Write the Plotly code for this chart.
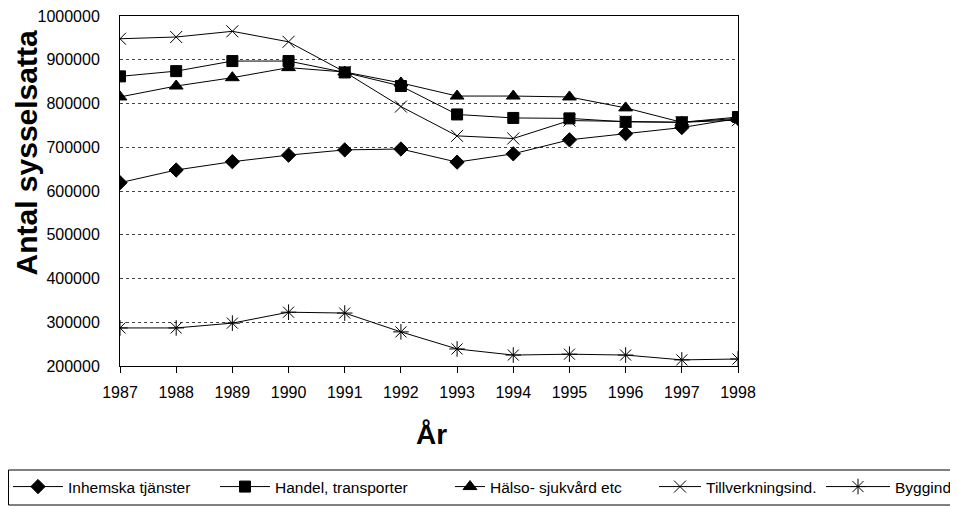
import plotly.graph_objects as go

years = [1987, 1988, 1989, 1990, 1991, 1992, 1993, 1994, 1995, 1996, 1997, 1998]
inhemska = [619000, 648000, 667000, 682000, 694000, 696000, 666000, 685000, 717000, 731000, 745000, 766000]
handel = [862000, 874000, 897000, 897000, 871000, 840000, 775000, 767000, 766000, 758000, 757000, 769000]
halso = [815000, 840000, 859000, 882000, 872000, 847000, 817000, 817000, 815000, 790000, 757000, 766000]
tillverk = [948000, 952000, 965000, 941000, 872000, 793000, 726000, 720000, 761000, 759000, 757000, 762000]
byggind = [287000, 287000, 298000, 323000, 321000, 278000, 239000, 225000, 227000, 225000, 214000, 216000]

series_names = ["Inhemska tjänster", "Handel, transporter", "Hälso- sjukvård etc",
                "Tillverkningsind.", "Byggind"]
series_values = [inhemska, handel, halso, tillverk, byggind]
symbols = ["diamond", "square", "triangle-up", "x-thin-open", "asterisk-open"]
sizes = [11, 11, 12, 12, 13]

y_ticks = [200000, 300000, 400000, 500000, 600000, 700000, 800000, 900000, 1000000]

FONT = "Liberation Sans, Arial, sans-serif"

# page body has an 8px margin, so the figure is placed 8px in from the corner
W, H = 950, 499
L, R, T, B = 112, 730, 8, 358

fig = go.Figure()
legend_keys = ["legend", "legend2", "legend3", "legend4", "legend5"]
for i, (name, vals) in enumerate(zip(series_names, series_values)):
    fig.add_trace(go.Scatter(
        x=years, y=vals, name=name, mode="lines+markers",
        line=dict(color="black", width=1),
        marker=dict(symbol=symbols[i], size=sizes[i], color="black",
                    line=dict(color="black", width=1)),
        legend=legend_keys[i],
    ))

# legend positions (figure pixels) and symbol widths
leg_px = [0, 207, 442, 646, 813]
leg_iw = [50, 50, 30, 42, 64]
layout_legends = {}
for key, px, iw in zip(legend_keys, leg_px, leg_iw):
    layout_legends[key] = dict(
        x=px / W, xref="container", xanchor="left",
        y=1 - 479 / H, yref="container", yanchor="middle",
        bgcolor="rgba(0,0,0,0)", borderwidth=0,
        font=dict(family=FONT, size=15.5, color="black"),
        itemwidth=iw, orientation="h",
    )

pw = R - L
ph = B - T

def px_to_paper_x(px):
    return (px - L) / pw

def py_to_paper_y(py):
    return (B - py) / ph

fig.update_layout(
    width=W, height=H,
    margin=dict(l=L, r=W - R, t=T, b=H - B, autoexpand=False),
    paper_bgcolor="white", plot_bgcolor="white",
    showlegend=True,
    font=dict(family=FONT, color="black"),
    xaxis=dict(
        range=[1987, 1998], tickmode="array", tickvals=years,
        ticktext=[str(y) for y in years],
        showgrid=False, zeroline=False,
        showline=True, linecolor="black", linewidth=1, mirror=True,
        ticks="outside", ticklen=6, tickcolor="black",
        tickfont=dict(family=FONT, size=16, color="black"),
        ticklabelstandoff=6, ticklabeloverflow="allow",
    ),
    yaxis=dict(
        range=[200000, 1000000], tickmode="array", tickvals=y_ticks,
        ticktext=[str(v) for v in y_ticks],
        showgrid=True, gridcolor="#444444", griddash="dot", gridwidth=1,
        zeroline=False,
        showline=True, linecolor="black", linewidth=1, mirror=True,
        ticks="", tickfont=dict(family=FONT, size=16, color="black"),
        ticklabelstandoff=16, ticklabeloverflow="allow",
    ),
    shapes=[dict(
        type="rect", xref="paper", yref="paper",
        x0=px_to_paper_x(0.5), x1=px_to_paper_x(948),
        y0=py_to_paper_y(497), y1=py_to_paper_y(462),
        line=dict(color="black", width=1), fillcolor="rgba(0,0,0,0)",
    )],
    annotations=[
        dict(text="Antal sysselsatta", textangle=-90,
             x=px_to_paper_x(17.5), xref="paper", y=py_to_paper_y(145), yref="paper",
             xanchor="center", yanchor="middle", showarrow=False,
             font=dict(family=FONT, size=30, color="black", weight="bold")),
        dict(text="År",
             x=px_to_paper_x(423), xref="paper", y=py_to_paper_y(426), yref="paper",
             xanchor="center", yanchor="middle", showarrow=False,
             font=dict(family=FONT, size=28, color="black", weight="bold")),
    ],
    **layout_legends,
)

fig.write_html("out.html")
